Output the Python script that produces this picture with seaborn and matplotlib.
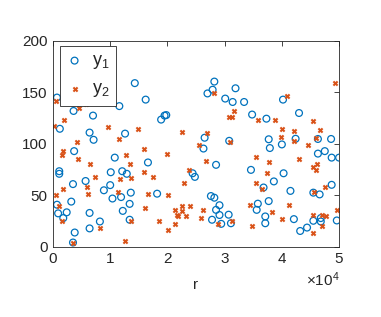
import numpy as np
import pandas as pd
import matplotlib
matplotlib.use("Agg")
import matplotlib.pyplot as plt
import seaborn as sns

# y1 (circles)
x1 = [700, 3600, 7000, 1200, 6400, 7100, 3700, 1100, 1100, 3500, 5700, 8900,
      700, 3200, 900, 2400, 1800, 6400, 8200, 6400, 3800, 3500,
      14300, 16200, 11600, 18900, 19500, 19800, 12600, 10800, 16600, 10100,
      12100, 12900, 10000, 10400, 11900, 13600, 18200, 13400, 12200, 13400,
      28200, 27900, 27000, 26500, 26300, 28500, 24400, 24800, 27600, 28200,
      29100, 28500, 29100, 27800, 29400,
      31900, 30100, 31400, 33400, 34800, 37300, 30800, 37700, 37900, 34600,
      38600, 36800, 35800, 35600, 37700, 30700, 31100, 37100, 37100,
      40200, 43000, 42400, 46300, 48600, 40000, 47500, 46300, 48700, 50000,
      40300, 48700, 41500, 45500, 46600, 42100, 43200, 44400, 45500, 46800,
      46800, 49600]
y1 = [145, 132, 127.5, 114.7, 111, 104, 93, 73.5, 71, 61, 64, 55,
      41, 44, 32.6, 33.6, 28, 33, 24.7, 18, 14, 4.3,
      159, 143, 136.7, 123.6, 127.5, 128, 110, 86.7, 82, 72.5,
      73.5, 71, 60, 47, 48.4, 52.7, 51.7, 41.8, 35, 26.4,
      160.5, 152.6, 149, 106, 95.5, 79.7, 71.5, 68, 49.4, 47.8,
      40.5, 36, 31, 26.4, 22.4,
      154, 144, 140.7, 140.7, 128.5, 124.5, 103, 104.5, 96, 74.8,
      63.6, 57.7, 42, 36, 44.5, 31.3, 23, 29.6, 23,
      143, 130, 105, 104.8, 104.8, 99.5, 93, 90.6, 86.7, 86.7,
      71.5, 60.3, 54.4, 52.7, 51, 27, 15.5, 18.8, 25.4, 28,
      24.7, 25.7]

# y2 (crosses)
x2 = [600, 4600, 5700, 7600, 2000, 100, 9700, 4200, 1800, 1500, 4300, 6500,
      7400, 6000, 1700, 6200, 600, 1100, 1600, 8200, 3500,
      14900, 11600, 15900, 20000, 12800, 13500, 15900, 17500, 11800, 13700,
      11400, 16600, 20100, 16000, 13700, 18600, 12600,
      28100, 27000, 22500, 25600, 26700, 23800, 22900, 22600, 23900, 21300,
      22600, 21600, 21800, 23300, 26200, 25900, 21400, 20100, 28900,
      31600, 30800, 31200, 31000, 35800, 38800, 40000, 39900, 35500, 37700,
      37400, 35400, 36500, 34400, 38300, 31300, 34800, 40000,
      40900, 49300, 42200, 45500, 46700, 42200, 45900, 44600, 43000, 46200,
      45400, 45900, 47600, 45700, 41200, 49700, 45400, 47000, 47700, 47000,
      45400]
y2 = [142, 135, 139, 141, 123, 117.6, 116, 102, 93, 89, 85, 80.7,
      68, 58.6, 56, 51.7, 50, 39.5, 25.4, 18, 4.3,
      114, 105, 95, 90.6, 89, 80.7, 73, 67.5, 66, 66.5,
      53.7, 51.7, 50, 38, 25.4, 24.7, 6,
      149, 111, 112, 99, 83.4, 75, 61.6, 40, 40, 35.6,
      34.6, 30.6, 29.6, 30, 36, 28, 22, 16.5, 22.4,
      131.8, 126, 126, 102, 123.6, 123.6, 114, 107, 87, 82,
      71.5, 62, 56, 40.5, 34, 24.7, 20.8, 27,
      146.6, 159, 113, 122, 113.7, 103, 105.4, 99, 85.7, 80.7,
      77.4, 75, 58.3, 53.4, 40.5, 36, 31.3, 31.3, 29.6, 20.4,
      14]

series_names = ["y$_1$", "y$_2$"]
x_label = "r"
y_ticks = [0, 50, 100, 150, 200]
x_ticks = [0, 10000, 20000, 30000, 40000, 50000]

blue = "#0072BD"
orange = "#D95319"
dark = "#262626"

df1 = pd.DataFrame({"r": x1, "y": y1})
df2 = pd.DataFrame({"r": x2, "y": y2})

sns.set_style("white")
plt.rcParams["font.family"] = ["Liberation Sans", "DejaVu Sans"]
plt.rcParams["mathtext.fontset"] = "custom"
plt.rcParams["mathtext.rm"] = "Liberation Sans"
plt.rcParams["mathtext.it"] = "Liberation Sans"

fig = plt.figure(figsize=(3.81, 3.17), dpi=100)
ax = fig.add_axes([0.139, 0.221, 0.751, 0.650])

sns.scatterplot(data=df1, x="r", y="y", ax=ax, marker="o", s=24,
                facecolors="none", edgecolor=blue, linewidth=0.9,
                label=series_names[0])
sns.scatterplot(data=df2, x="r", y="y", ax=ax, marker="x", s=9,
                color=orange, linewidth=1.5, label=series_names[1])

ax.set_xlim(0, 50000)
ax.set_ylim(0, 200)
ax.set_xticks(x_ticks)
ax.set_yticks(y_ticks)
ax.ticklabel_format(style="sci", axis="x", scilimits=(0, 0), useMathText=True)
ax.xaxis.get_offset_text().set_fontsize(11)
ax.xaxis.get_offset_text().set_color(dark)

ax.set_xlabel(x_label, fontsize=11, color=dark, labelpad=8)
ax.set_ylabel("")
ax.tick_params(direction="in", length=3.5, width=0.6, colors=dark,
               labelsize=11, top=True, right=True, pad=4)
for sp in ax.spines.values():
    sp.set_color(dark)
    sp.set_linewidth(0.6)
    sp.set_visible(True)

leg = ax.legend(loc="upper left", bbox_to_anchor=(0.025, 0.975), fontsize=13,
                frameon=True, fancybox=False, framealpha=1,
                edgecolor=dark, handletextpad=0.5, borderpad=0.35,
                labelspacing=0.5, handlelength=0.9, borderaxespad=0)
leg.get_frame().set_linewidth(0.6)
hs = leg.legend_handles
hs[0].set_sizes([24])
hs[1].set_sizes([9])

fig.savefig("out.png", dpi=100)
